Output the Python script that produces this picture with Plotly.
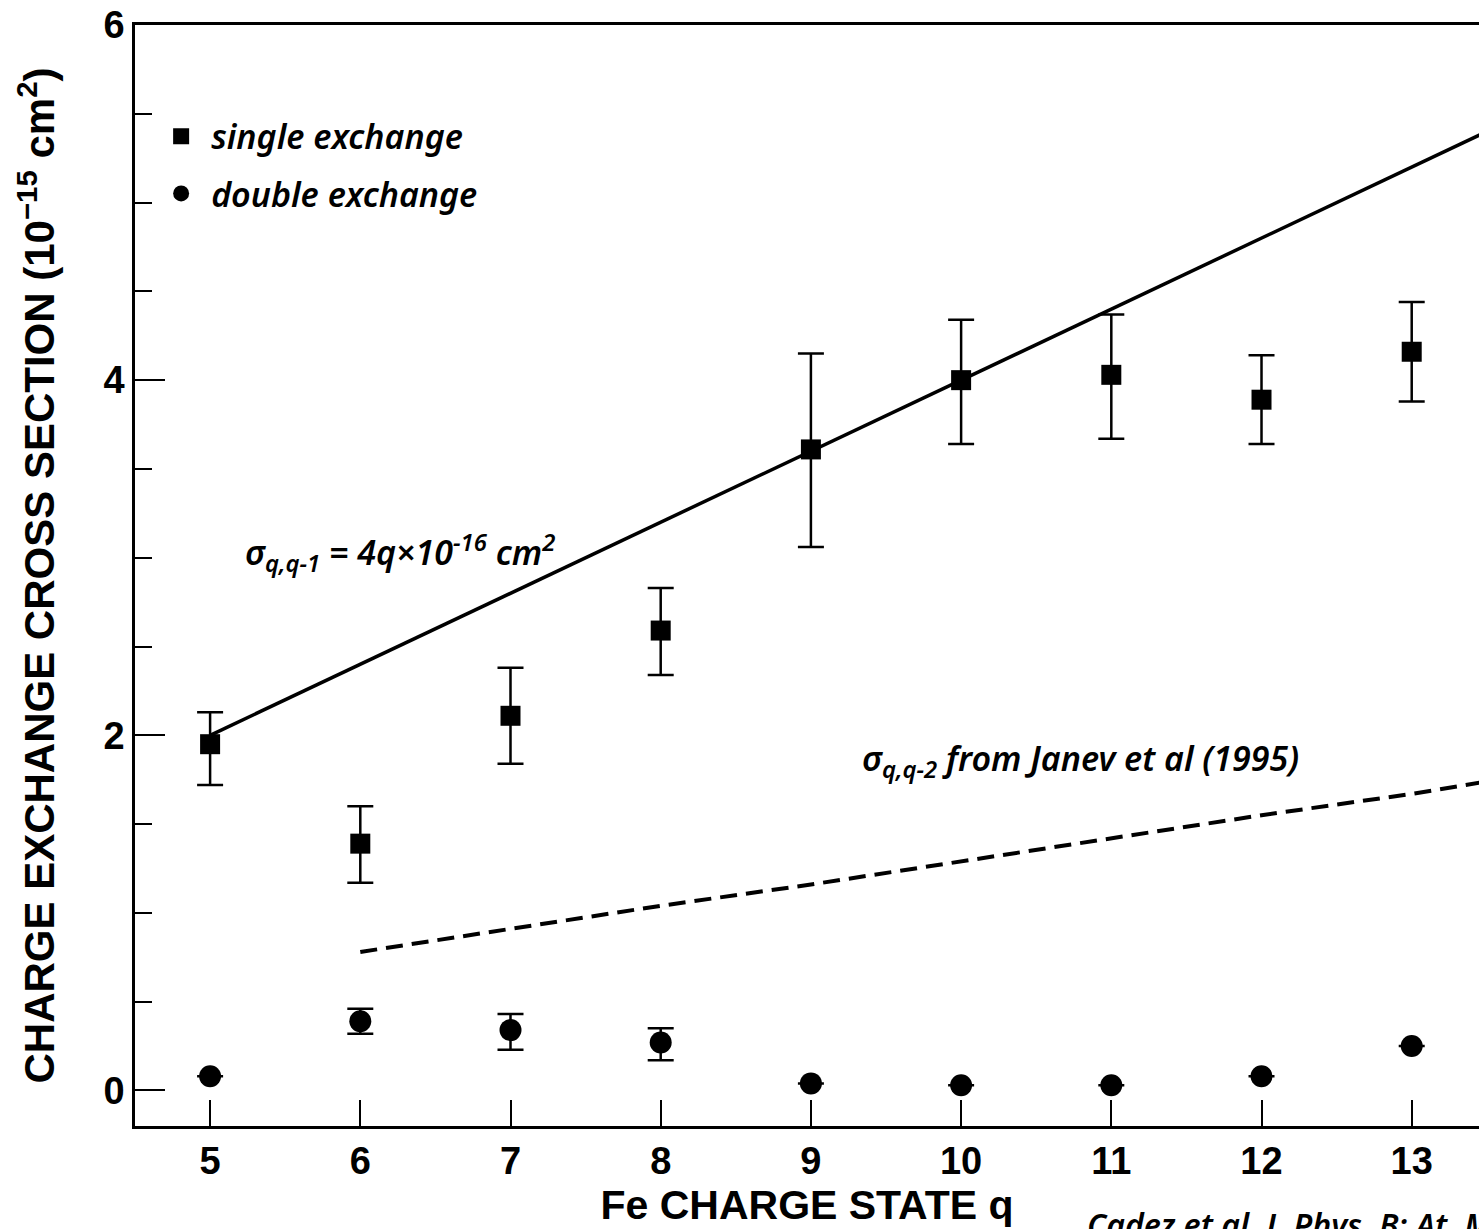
import plotly.graph_objects as go

# Fe charge state q
charge_state = [5, 6, 7, 8, 9, 10, 11, 12, 13]

# Single electron capture cross sections (1e-15 cm^2) with asymmetric error bars
single_sigma = [1.95, 1.39, 2.11, 2.59, 3.61, 4.00, 4.03, 3.89, 4.16]
single_err_plus = [0.18, 0.21, 0.27, 0.24, 0.54, 0.34, 0.34, 0.25, 0.28]
single_err_minus = [0.23, 0.22, 0.27, 0.25, 0.55, 0.36, 0.36, 0.25, 0.28]

# Double electron capture cross sections (1e-15 cm^2)
double_sigma = [0.08, 0.39, 0.34, 0.27, 0.04, 0.03, 0.03, 0.08, 0.25]
double_err_plus = [0.0, 0.07, 0.09, 0.08, 0.0, 0.0, 0.0, 0.0, 0.0]
double_err_minus = [0.0, 0.07, 0.11, 0.10, 0.0, 0.0, 0.0, 0.0, 0.0]

# Scaling law sigma_{q,q-1} = 4q x 1e-16 cm^2
scaling_q = [5, 13.5]
scaling_sigma = [2.0, 5.4]

# sigma_{q,q-2} from Janev et al (1995)
janev_q = [6, 7, 8, 9, 10, 11, 12, 13, 13.5]
janev_sigma = [0.78, 0.91, 1.04, 1.16, 1.29, 1.42, 1.55, 1.67, 1.74]

x_ticks = [5, 6, 7, 8, 9, 10, 11, 12, 13]
y_ticks = [0, 2, 4, 6]

BLACK = "#000000"
LABEL_FONT = "Liberation Sans, Arial, sans-serif"
TEXT_FONT = "Noto Sans, Open Sans, sans-serif"

fig = go.Figure()

fig.add_trace(go.Scatter(
    x=scaling_q, y=scaling_sigma, mode="lines",
    line=dict(color=BLACK, width=3.5), showlegend=False, hoverinfo="skip",
))
fig.add_trace(go.Scatter(
    x=janev_q, y=janev_sigma, mode="lines",
    line=dict(color=BLACK, width=4, dash="17px,9px"), showlegend=False, hoverinfo="skip",
))
fig.add_trace(go.Scatter(
    x=charge_state, y=single_sigma, mode="markers", name="single exchange",
    legendgroup="single",
    marker=dict(symbol="square", size=20, color=BLACK),
    error_y=dict(type="data", symmetric=False, array=single_err_plus,
                 arrayminus=single_err_minus, color=BLACK, thickness=2.5, width=13),
))
fig.add_trace(go.Scatter(
    x=charge_state, y=double_sigma, mode="markers", name="double exchange",
    legendgroup="double",
    marker=dict(symbol="circle", size=22, color=BLACK),
    error_y=dict(type="data", symmetric=False, array=double_err_plus,
                 arrayminus=double_err_minus, color=BLACK, thickness=2.5, width=13),
))

ANNOT_FONT = dict(family=TEXT_FONT, size=34, color=BLACK, style="italic", weight=600)

fig.add_annotation(
    x=5.22, y=3.03, xref="x", yref="y", xanchor="left", yanchor="middle",
    text="σ<sub>q,q-1</sub> = 4q×10<sup>-16</sup> cm<sup>2</sup>",
    showarrow=False, font=ANNOT_FONT,
)
fig.add_annotation(
    x=9.33, y=1.86, xref="x", yref="y", xanchor="left", yanchor="middle",
    text="σ<sub>q,q-2</sub> from Janev et al (1995)",
    showarrow=False, font=ANNOT_FONT,
)
fig.add_annotation(
    x=0.707, y=-0.068, xref="paper", yref="paper", xanchor="left", yanchor="top",
    text="Cadez et al, J. Phys. B: At. Mol. Opt. Phys.",
    showarrow=False,
    font=dict(family=TEXT_FONT, size=32, color=BLACK, style="italic", weight=600),
)

fig.update_layout(
    width=1479, height=1229,
    margin=dict(l=135, r=0, t=25, b=103),
    paper_bgcolor="white", plot_bgcolor="white",
    showlegend=True,
    legend=dict(
        x=0.012, y=0.925, xanchor="left", yanchor="top",
        font=dict(family=TEXT_FONT, size=34, color=BLACK, style="italic", weight=600),
        bgcolor="rgba(0,0,0,0)", tracegroupgap=10, traceorder="grouped",
        itemsizing="trace", itemwidth=50,
    ),
    xaxis=dict(
        range=[4.5, 13.448], tickmode="array", tickvals=x_ticks,
        ticks="inside", ticklen=26, tickwidth=1.5, tickcolor=BLACK,
        showline=True, linecolor=BLACK, linewidth=2.5, mirror=True,
        showgrid=False, zeroline=False,
        tickfont=dict(family=LABEL_FONT, size=38, color=BLACK, weight="bold"),
        title=dict(text="Fe CHARGE STATE q", standoff=0,
                   font=dict(family=LABEL_FONT, size=41, color=BLACK, weight="bold")),
    ),
    yaxis=dict(
        range=[-0.2, 6.0], tickmode="array", tickvals=y_ticks,
        ticks="inside", ticklen=30, tickwidth=1.5, tickcolor=BLACK,
        minor=dict(dtick=0.5, ticks="inside", ticklen=17, tickwidth=1.5, tickcolor=BLACK),
        showline=True, linecolor=BLACK, linewidth=2.5,
        showgrid=False, zeroline=False,
        tickfont=dict(family=LABEL_FONT, size=38, color=BLACK, weight="bold"),
        title=dict(text="CHARGE EXCHANGE CROSS SECTION (10<sup>−15</sup> cm<sup>2</sup>)",
                   standoff=36,
                   font=dict(family=LABEL_FONT, size=42, color=BLACK, weight="bold")),
    ),
)

fig.write_html("out.html")
